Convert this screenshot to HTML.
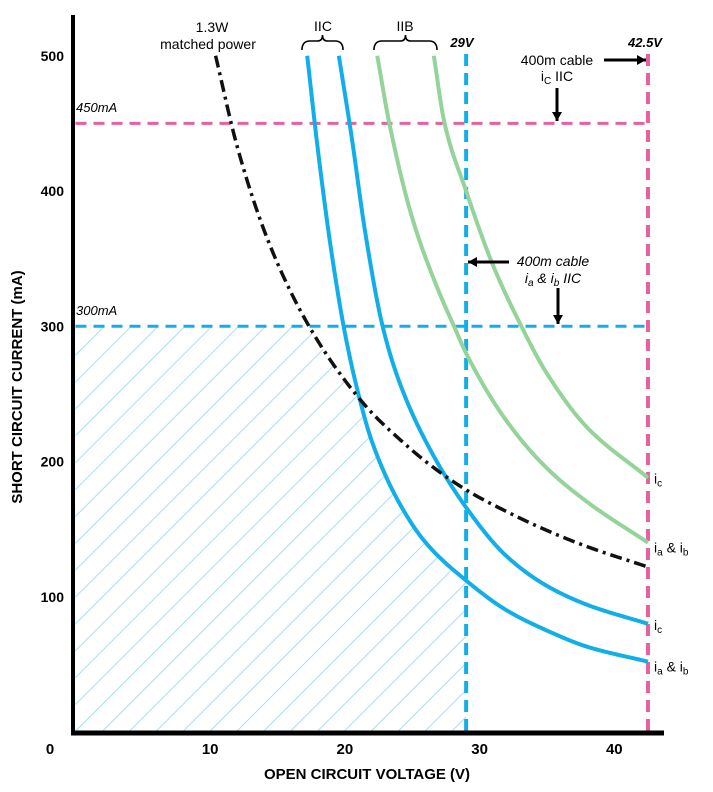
<!DOCTYPE html>
<html><head><meta charset="utf-8"><style>
body{margin:0;background:#fff;}
svg{display:block;font-family:"Liberation Sans",sans-serif;}
</style></head><body>
<svg id="chart" width="713" height="792" viewBox="0 0 713 792">
<defs>
<pattern id="hatch" patternUnits="userSpaceOnUse" width="19" height="19" patternTransform="rotate(45)">
<line x1="0" y1="0" x2="0" y2="19" stroke="#a9dcf4" stroke-width="2"/>
</pattern>
<clipPath id="plotclip"><rect x="73" y="40" width="600" height="693"/></clipPath>
</defs>
<g id="layer"></g>
</svg>
<script>
const xTicks=[10,20,30,40];
const yTicks=[100,200,300,400,500];
const powerV=[10.4,12,14,16,18,20,22,24,26,29,32,35,38,42.5];
const powerI=[500,433,371,325,289,260,236,217,200,179,163,149,137,122];
const iicAbV=[17.2,18,19,20,21,22,24,26,29,32,35,38,42.5];
const iicAbI=[500,430,355,295,250,215,170,140,112,90,75,63,52];
const iicCV=[19.55,20.5,21.5,22.8,24,26,29,32,35,38,42.5];
const iicCI=[500,440,370,300,260,215,166,130,108,94,80];
const iibAbV=[22.4,23.3,25,27,28.1,29,32,35,38,42.5];
const iibAbI=[500,450,380,325,300,280,230,195,170,140];
const iibCV=[26.6,27.4,29,31,33.1,35,38,42.5];
const iibCI=[500,450,400,345,300,265,225,188];
const limitI=[450,300];
const limitV=[29,42.5];

const X=v=>75.5+v*13.47;
const Y=i=>732-i*1.3525;
const NS="http://www.w3.org/2000/svg";
const L=document.getElementById('layer');
function mk(t,a,txt){const e=document.createElementNS(NS,t);for(const k in a)e.setAttribute(k,a[k]);if(txt!==undefined)e.textContent=txt;L.appendChild(e);return e;}
// monotone cubic interpolation
function mono(xs,ys){const n=xs.length,d=[],m=[];for(let k=0;k<n-1;k++)d.push((ys[k+1]-ys[k])/(xs[k+1]-xs[k]));
m[0]=d[0];m[n-1]=d[n-2];for(let k=1;k<n-1;k++){if(d[k-1]*d[k]<=0)m[k]=0;else{const w1=2*(xs[k+1]-xs[k])+(xs[k]-xs[k-1]),w2=(xs[k+1]-xs[k])+2*(xs[k]-xs[k-1]);m[k]=(w1+w2)/(w1/d[k-1]+w2/d[k]);}}
return v=>{if(v<xs[0])return Infinity;if(v>=xs[n-1])return ys[n-1];let k=0;while(v>xs[k+1])k++;const h=xs[k+1]-xs[k],t=(v-xs[k])/h,t2=t*t,t3=t2*t;
return (2*t3-3*t2+1)*ys[k]+(t3-2*t2+t)*h*m[k]+(-2*t3+3*t2)*ys[k+1]+(t3-t2)*h*m[k+1];};}
function curvePath(vs,is){const f=mono(vs,is);let d='';const a=vs[0],b=vs[vs.length-1];for(let s=0;s<=300;s++){const v=a+(b-a)*s/300;d+=(s?' L':'M')+X(v).toFixed(2)+','+Y(f(v)).toFixed(2);}return d;}
const fPow=mono(powerV,powerI),fAb=mono(iicAbV,iicAbI);

// hatched safe region
let hd=`M${X(0)},${Y(0)}`;
for(let v=0;v<=limitV[0]+0.001;v+=0.05){const i=Math.min(limitI[1],fPow(v),fAb(v));hd+=` L${X(v).toFixed(2)},${Y(i).toFixed(2)}`;}
hd+=` L${X(limitV[0])},${Y(0)} Z`;
let e=mk('path',{d:hd,fill:'url(#hatch)','clip-path':'url(#plotclip)'});



// limit lines
e=mk('line',{x1:X(0),x2:X(limitV[1]),y1:Y(limitI[0]),y2:Y(limitI[0]),stroke:'#e8609f','stroke-width':3,'stroke-dasharray':'11 7'});

e=mk('line',{x1:X(0),x2:X(limitV[1]),y1:Y(limitI[1]),y2:Y(limitI[1]),stroke:'#12aee8','stroke-width':3,'stroke-dasharray':'11 7'});

e=mk('line',{x1:X(limitV[0]),x2:X(limitV[0]),y1:54,y2:Y(0),stroke:'#12aee8','stroke-width':4,'stroke-dasharray':'12 7'});

e=mk('line',{x1:X(limitV[1]),x2:X(limitV[1]),y1:54,y2:Y(0),stroke:'#e8609f','stroke-width':4,'stroke-dasharray':'12 7'});


// curves
e=mk('path',{d:curvePath(iibAbV,iibAbI),fill:'none',stroke:'#94d39a','stroke-width':4});

e=mk('path',{d:curvePath(iibCV,iibCI),fill:'none',stroke:'#94d39a','stroke-width':4});

e=mk('path',{d:curvePath(iicAbV,iicAbI),fill:'none',stroke:'#12aee8','stroke-width':4});

e=mk('path',{d:curvePath(iicCV,iicCI),fill:'none',stroke:'#12aee8','stroke-width':4});

e=mk('path',{d:curvePath(powerV,powerI),fill:'none',stroke:'#111','stroke-width':3.5,'stroke-dasharray':'12 5 3 5'});


// axes
e=mk('line',{x1:73,x2:73,y1:15,y2:735,stroke:'#000','stroke-width':4});

e=mk('line',{x1:71,x2:664,y1:733,y2:733,stroke:'#000','stroke-width':5});

e=mk('text',{x:50,y:754,'font-size':15,'font-weight':'bold','text-anchor':'middle'},'0');

xTicks.forEach(t=>{const el=mk('text',{x:X(t),y:754,'font-size':15,'font-weight':'bold','text-anchor':'middle'},String(t));
});
yTicks.forEach(t=>{const el=mk('text',{x:64,y:Y(t)+5,'font-size':14,'font-weight':'bold','text-anchor':'end'},String(t));
});
e=mk('text',{x:367,y:779,'font-size':15,'font-weight':'bold','text-anchor':'middle'},'OPEN CIRCUIT VOLTAGE (V)');

e=mk('text',{x:0,y:0,'font-size':15,'font-weight':'bold','text-anchor':'middle',transform:'translate(22,387) rotate(-90)'},'SHORT CIRCUIT CURRENT  (mA)');


// annotations
function txt(x,y,s,name,extra){const el=mk('text',Object.assign({x:x,y:y,'font-size':14},extra||{}),s);return el;}
txt(212,32,'1.3W','matched-power-label',{'text-anchor':'middle'});
txt(208,49,'matched power','matched-power-label-2',{'text-anchor':'middle'});
txt(323,31,'IIC','iic-group-label',{'text-anchor':'middle'});
txt(405,31,'IIB','iib-group-label',{'text-anchor':'middle'});
function brace(x1,x2,name){const m=(x1+x2)/2;const el=mk('path',{d:`M${x1},50 Q${x1},41 ${x1+8},41 L${m-5},41 Q${m},41 ${m},35 Q${m},41 ${m+5},41 L${x2-8},41 Q${x2},41 ${x2},50`,fill:'none',stroke:'#000','stroke-width':1.6});}
brace(302,343,'iic-brace');brace(374,437,'iib-brace');
txt(462,47,'29V','29v-label',{'font-style':'italic','font-weight':'bold','font-size':13,'text-anchor':'middle'});
txt(645,47,'42.5V','42-5v-label',{'font-style':'italic','font-weight':'bold','font-size':13,'text-anchor':'middle'});
txt(76,112,'450mA','450ma-label',{'font-style':'italic','font-size':13});
txt(76,315,'300mA','300ma-label',{'font-style':'italic','font-size':13});
txt(557,65,'400m cable','cable-ic-label',{'text-anchor':'middle'});
e=mk('text',{x:557,y:81,'font-size':14,'text-anchor':'middle'});
e.innerHTML='i<tspan font-size="10" dy="3">C</tspan><tspan dy="-3"> IIC</tspan>';

e=mk('text',{x:553,y:266,'font-size':14,'font-style':'italic','text-anchor':'middle'},'400m cable');

e=mk('text',{x:553,y:283,'font-size':14,'font-style':'italic','text-anchor':'middle'});
e.innerHTML='i<tspan font-size="10" dy="3">a</tspan><tspan dy="-3"> &amp; i</tspan><tspan font-size="10" dy="3">b</tspan><tspan dy="-3"> IIC</tspan>';

function arrow(x1,y1,x2,y2,name){const el=mk('line',{x1,y1,x2,y2,stroke:'#000','stroke-width':3});
const a=Math.atan2(y2-y1,x2-x1),s=9,w=5;const p=[[x2,y2],[x2-s*Math.cos(a)+w*Math.sin(a),y2-s*Math.sin(a)-w*Math.cos(a)],[x2-s*Math.cos(a)-w*Math.sin(a),y2-s*Math.sin(a)+w*Math.cos(a)]];
const h=mk('polygon',{points:p.map(q=>q.join(',')).join(' '),fill:'#000'});}
arrow(604,60,646,60,'arrow-to-42-5v');
arrow(557,88,557,121,'arrow-to-450ma');
arrow(509,262,468,262,'arrow-to-29v');
arrow(558,288,558,324,'arrow-to-300ma');
function endLab(y,sub,name){const el=mk('text',{x:654,y:y,'font-size':14});el.innerHTML=sub;}
endLab(Y(iibCI[iibCI.length-1])+6,'i<tspan font-size="10" dy="3">c</tspan>','iib-ic-end-label');
endLab(Y(iibAbI[iibAbI.length-1])+10,'i<tspan font-size="10" dy="3">a</tspan><tspan dy="-3"> &amp; i</tspan><tspan font-size="10" dy="3">b</tspan>','iib-iab-end-label');
endLab(Y(iicCI[iicCI.length-1])+6,'i<tspan font-size="10" dy="3">c</tspan>','iic-ic-end-label');
endLab(Y(iicAbI[iicAbI.length-1])+10,'i<tspan font-size="10" dy="3">a</tspan><tspan dy="-3"> &amp; i</tspan><tspan font-size="10" dy="3">b</tspan>','iic-iab-end-label');
</script>
</body></html>
